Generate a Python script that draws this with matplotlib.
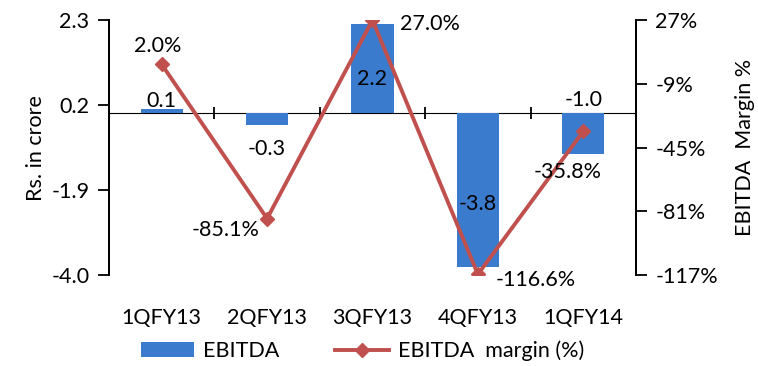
import numpy as np
import matplotlib.pyplot as plt
from matplotlib.ticker import FormatStrFormatter

# quarterly EBITDA (Rs. crore) and EBITDA margin (%)
quarters = ["1QFY13", "2QFY13", "3QFY13", "4QFY13", "1QFY14"]
ebitda = [0.1, -0.3, 2.2, -3.8, -1.0]
margin = [2.0, -85.1, 27.0, -116.6, -35.8]

left_ticks = [-4.0, -1.9, 0.2, 2.3]
right_ticks = [-117, -81, -45, -9, 27]

BAR_COLOR = "#3A7BCD"
LINE_COLOR = "#C0504D"

plt.rcParams["font.family"] = ["Lato", "DejaVu Sans"]
plt.rcParams["font.size"] = 15.5

fig = plt.figure(figsize=(7.58, 3.66), dpi=100)
ax = fig.add_axes([0.1438, 0.2486, 0.839 - 0.1438, 0.945 - 0.2486])
ax2 = ax.twinx()

x = np.arange(len(quarters))
ax.bar(x, ebitda, width=0.4, color=BAR_COLOR, zorder=2, label="EBITDA")
ax2.plot(x, margin, color=LINE_COLOR, lw=2.8, marker="D", ms=7,
         label="EBITDA  margin (%)", zorder=3)

lo, hi = left_ticks[0], left_ticks[-1]
ax.set_ylim(lo, hi)
ax.set_yticks(left_ticks)
ax.yaxis.set_major_formatter(FormatStrFormatter("%.1f"))
ax2.set_ylim(right_ticks[0], right_ticks[-1])
ax2.set_yticks(right_ticks)
ax2.yaxis.set_major_formatter(FormatStrFormatter("%d%%"))

ax.set_xlim(-0.5, len(quarters) - 0.5)
ax.set_xticks(x, quarters)
ax.tick_params(axis="x", length=0, pad=24)
ax.tick_params(axis="y", length=8, width=1.3, pad=6)
ax2.tick_params(axis="y", length=8, width=1.3, pad=6)

for a in (ax, ax2):
    a.spines["top"].set_visible(False)
    a.spines["bottom"].set_visible(False)
    a.spines["left"].set_linewidth(1.3)
    a.spines["right"].set_linewidth(1.3)

# zero line with category divider ticks
zero = ax.secondary_xaxis((0 - lo) / (hi - lo))
zero.set_xticks(np.arange(len(quarters) + 1) - 0.5)
zero.set_xticklabels([])
zero.tick_params(length=9, width=1.3, direction="inout")
zero.spines["bottom"].set_linewidth(1.8)

ax.set_ylabel("Rs. in crore", labelpad=4)
ax2.set_ylabel("EBITDA  Margin %", labelpad=12)

# bar value labels: (anchor at bar end or at zero, offset in points, va)
bar_labels = [(True, -1, "bottom"), (True, -10, "top"), (True, -32, "top"),
              (True, 38, "bottom"), (False, 2, "bottom")]
for xi, v, (at_end, dy, va) in zip(x, ebitda, bar_labels):
    ax.annotate(f"{v:.1f}", (xi, v if at_end else 0), xytext=(0, dy),
                textcoords="offset points", ha="center", va=va)

# margin labels
line_offsets = [(-3, 6, "center", "bottom"), (-30, -1, "center", "top"),
                (20, -3, "left", "center"), (13, -4, "left", "center"),
                (-11, -22, "center", "top")]
for xi, v, (dx, dy, ha, va) in zip(x, margin, line_offsets):
    ax2.annotate(f"{v:.1f}%", (xi, v), xytext=(dx, dy),
                 textcoords="offset points", ha=ha, va=va, zorder=4)

h1, l1 = ax.get_legend_handles_labels()
h2, l2 = ax2.get_legend_handles_labels()
fig.legend(h1 + h2, l1 + l2, loc="lower center", bbox_to_anchor=(0.478, -0.04),
           ncol=2, frameon=False, handlelength=2.5, columnspacing=2.6,
           handletextpad=0.4)

fig.savefig("out.png", dpi=100)
